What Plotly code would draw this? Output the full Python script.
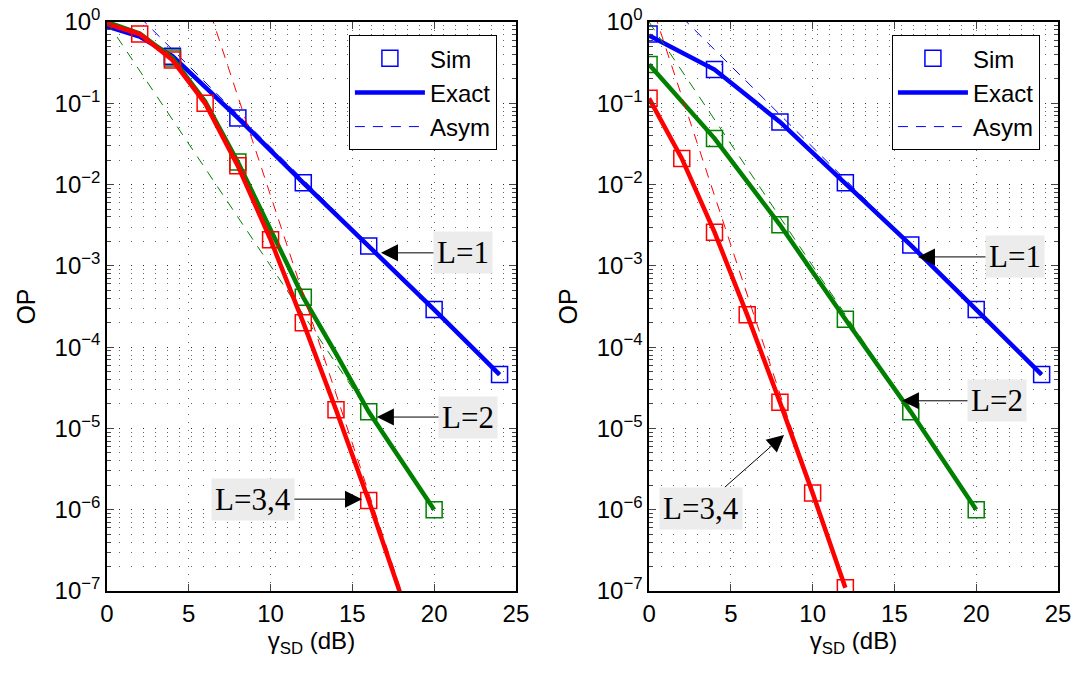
import plotly.graph_objects as go

# ── data ──
# left panel
L_blue_x = [0, 2, 4, 6, 8, 12, 16, 20, 24]
L_blue_exact = [0.88, 0.66, 0.38, 0.155, 0.066, 0.0105, 1.75e-3, 2.9e-4, 4.6e-5]
L_blue_sim_x = [4, 8, 12, 16, 20, 24]
L_blue_sim = [0.38, 0.066, 0.0105, 1.75e-3, 2.9e-4, 4.6e-5]

L_green_x = [0, 2, 4, 6, 8, 10, 12, 14, 16, 18, 20]
L_green_exact = [1.0, 0.72, 0.36, 0.105, 0.019, 2.7e-3, 4.1e-4, 8.3e-5, 1.6e-5, 4.0e-6, 1.0e-6]
L_green_sim_x = [4, 8, 12, 16, 20]
L_green_sim = [0.36, 0.019, 4.1e-4, 1.6e-5, 1.0e-6]

L_red_x = [0, 2, 4, 6, 8, 10, 12, 14, 16, 18]
L_red_exact = [0.95, 0.71, 0.34, 0.1, 0.017, 2.1e-3, 2.0e-4, 1.7e-5, 1.3e-6, 8.5e-8]
L_red_sim_x = [2, 4, 6, 8, 10, 12, 14, 16]
L_red_sim = [0.71, 0.34, 0.1, 0.017, 2.1e-3, 2.0e-4, 1.7e-5, 1.3e-6]

# asymptotes
blue_asym_x = [2, 4, 6, 8, 10, 12, 14, 16, 18, 20, 22, 24]
blue_asym = [1.15, 0.457, 0.182, 0.0724, 0.0288, 0.0115, 4.57e-3, 1.82e-3, 7.24e-4, 2.88e-4, 1.15e-4, 4.57e-5]
green_asym_x = [0, 2, 4, 6, 8, 10, 12, 14, 16, 18, 20]
green_asym = [1.0, 0.251, 0.0631, 0.0158, 3.98e-3, 1.0e-3, 2.51e-4, 6.31e-5, 1.58e-5, 3.98e-6, 1.0e-6]
L_red_asym_x = [6, 8, 10, 12, 14, 16, 18]
L_red_asym = [2.02, 0.122, 7.3e-3, 4.4e-4, 2.7e-5, 1.6e-6, 9.7e-8]

# right panel
R_blue_x = [0, 4, 8, 12, 16, 20, 24]
R_blue_exact = [0.68, 0.26, 0.059, 0.0105, 1.8e-3, 2.9e-4, 4.6e-5]
R_blue_sim = [0.71, 0.26, 0.059, 0.0105, 1.8e-3, 2.9e-4, 4.6e-5]

R_green_x = [0, 4, 8, 12, 16, 20]
R_green_exact = [0.3, 0.037, 3.2e-3, 2.2e-4, 1.6e-5, 1.0e-6]
R_green_sim = [0.3, 0.037, 3.2e-3, 2.2e-4, 1.6e-5, 1.0e-6]

R_red_x = [0, 2, 4, 6, 8, 10, 12]
R_red_exact = [0.115, 0.021, 2.6e-3, 2.5e-4, 2.1e-5, 1.6e-6, 1.1e-7]
R_red_sim = [0.115, 0.021, 2.6e-3, 2.5e-4, 2.1e-5, 1.6e-6, 1.1e-7]
R_red_asym_x = [0, 2, 4, 6, 8, 10, 12]
R_red_asym = [2.02, 0.122, 7.3e-3, 4.4e-4, 2.7e-5, 1.6e-6, 9.7e-8]

x_ticks = [0, 5, 10, 15, 20, 25]
y_ticks = [1e-7, 1e-6, 1e-5, 1e-4, 1e-3, 1e-2, 1e-1, 1]
y_ticktext = ["10<sup>−7</sup>", "10<sup>−6</sup>", "10<sup>−5</sup>", "10<sup>−4</sup>",
              "10<sup>−3</sup>", "10<sup>−2</sup>", "10<sup>−1</sup>", "10<sup>0</sup>"]

BLUE, GREEN, RED = "#0000ff", "#008000", "#ff0000"
SANS = "Liberation Sans, Arial, sans-serif"
SERIF = "Liberation Serif, Times New Roman, serif"
GRID = "rgba(0,0,0,0.6)"

fig = go.Figure()


def add_set(xa, ya, legend, color, ex_x, ex_y, sim_x, sim_y, as_x, as_y, show):
    # sim squares, exact thick line, asymptote dashed
    fig.add_trace(go.Scatter(x=sim_x, y=sim_y, mode="markers", name="Sim",
                             marker=dict(symbol="square-open", size=16, color=color,
                                         line=dict(width=1.5, color=color)),
                             xaxis=xa, yaxis=ya, legend=legend, showlegend=show))
    fig.add_trace(go.Scatter(x=ex_x, y=ex_y, mode="lines", name="Exact",
                             line=dict(color=color, width=4.5),
                             xaxis=xa, yaxis=ya, legend=legend, showlegend=show))
    fig.add_trace(go.Scatter(x=as_x, y=as_y, mode="lines", name="Asym",
                             line=dict(color=color, width=1, dash="10px,8px"),
                             xaxis=xa, yaxis=ya, legend=legend, showlegend=show))


# left
add_set("x", "y", "legend", BLUE, L_blue_x, L_blue_exact, L_blue_sim_x, L_blue_sim,
        blue_asym_x, blue_asym, True)
add_set("x", "y", "legend", GREEN, L_green_x, L_green_exact, L_green_sim_x, L_green_sim,
        green_asym_x, green_asym, False)
add_set("x", "y", "legend", RED, L_red_x, L_red_exact, L_red_sim_x, L_red_sim,
        L_red_asym_x, L_red_asym, False)
# right
add_set("x2", "y2", "legend2", BLUE, R_blue_x, R_blue_exact, R_blue_x, R_blue_sim,
        blue_asym_x, blue_asym, True)
add_set("x2", "y2", "legend2", GREEN, R_green_x, R_green_exact, R_green_x, R_green_sim,
        green_asym_x, green_asym, False)
add_set("x2", "y2", "legend2", RED, R_red_x, R_red_exact, R_red_x, R_red_sim,
        R_red_asym_x, R_red_asym, False)

xaxis_style = dict(range=[0, 25], tickvals=x_ticks, ticks="inside", ticklen=7,
                   showline=True, linecolor="black", linewidth=1.5, mirror="allticks",
                   showgrid=True, gridcolor=GRID, griddash="1px,7px",
                   gridwidth=1, zeroline=False, automargin=False,
                   tickfont=dict(family=SANS, size=24, color="black"),
                   title=dict(text="γ<sub>SD</sub> (dB)", font=dict(family=SANS, size=24, color="black"),
                              standoff=4))
yaxis_style = dict(type="log", range=[-7, 0], tickvals=y_ticks, ticktext=y_ticktext,
                   ticks="inside", ticklen=7, showline=True, linecolor="black", linewidth=1.5,
                   mirror="allticks", showgrid=True, gridcolor=GRID,
                   griddash="1px,11px", gridwidth=1, zeroline=False, automargin=False,
                   minor=dict(ticks="inside", ticklen=4, showgrid=True, dtick="D1",
                              gridcolor=GRID, griddash="1px,11px"),
                   tickfont=dict(family=SANS, size=24, color="black"),
                   title=dict(text="OP", font=dict(family=SANS, size=25, color="black"),
                              standoff=12))

legend_style = dict(bgcolor="white", bordercolor="black", borderwidth=1, yanchor="top",
                    xanchor="right", traceorder="normal", itemwidth=70,
                    font=dict(family=SANS, size=24, color="black"), tracegroupgap=0)


def arrow(text, xref, yref, tip_x, tip_logy, tail_x, tail_logy):
    return dict(text=text, x=tip_x, y=tip_logy, ax=tail_x, ay=tail_logy,
                xref=xref, yref=yref, axref=xref, ayref=yref,
                showarrow=True, arrowhead=2, arrowsize=3.4, arrowwidth=1,
                arrowcolor="black", standoff=0,
                font=dict(family=SERIF, size=31, color="black"),
                bgcolor="#ececec", borderpad=3)


annotations = [
    arrow("L=1", "x", "y", 16.75, -2.84, 21.76, -2.84),
    arrow("L=2", "x", "y", 16.5, -4.86, 22.07, -4.86),
    arrow("L=3,4", "x", "y", 15.59, -5.87, 8.92, -5.87),
    arrow("L=1", "x2", "y2", 16.44, -2.89, 22.37, -2.89),
    arrow("L=2", "x2", "y2", 15.46, -4.66, 21.27, -4.66),
    arrow("L=3,4", "x2", "y2", 8.25, -5.08, 3.18, -5.98),
]

fig.update_layout(
    width=1076, height=675,
    margin=dict(l=107, r=18, t=22, b=84, autoexpand=False),
    paper_bgcolor="white", plot_bgcolor="white",
    xaxis=dict(domain=[0, 0.430], anchor="y", **xaxis_style),
    yaxis=dict(domain=[0, 1], anchor="x", **yaxis_style),
    xaxis2=dict(domain=[0.570, 1.0], anchor="y2", **xaxis_style),
    yaxis2=dict(domain=[0, 1], anchor="x2", **yaxis_style),
    legend=dict(x=0.410, y=0.977, **legend_style),
    legend2=dict(x=0.981, y=0.977, **legend_style),
    annotations=annotations,
)

# drop the page's default body margin so the figure sits at the window's corner
fig.write_html("out.html", config={"displayModeBar": False},
               post_script="document.body.style.margin='0';")
